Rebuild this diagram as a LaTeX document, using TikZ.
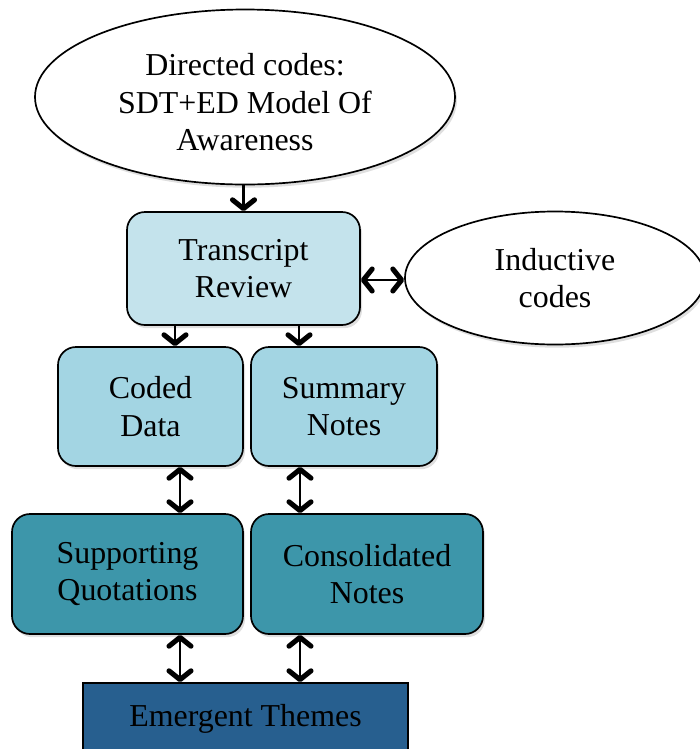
\documentclass[tikz,border=0pt]{standalone}
\usepackage{fontspec}
\setmainfont{Liberation Serif}
\usepackage{tikz}
\definecolor{c00}{rgb}{0.00, 0.00, 0.00}
\definecolor{c01}{HTML}{C4E3EC}
\definecolor{c02}{HTML}{A3D5E3}
\definecolor{c03}{HTML}{3D96AA}
\definecolor{c04}{HTML}{275F8F}
\usetikzlibrary{positioning}
\usetikzlibrary{shapes, arrows.meta, shadows}
\tikzstyle{Link} = [draw, line width=1.5pt, c00,
    -{Straight Barb[length=0.22cm, width=0.55cm, line width=3.6pt, round]}]
\tikzstyle{Both} = [Link,
    {Straight Barb[length=0.22cm, width=0.55cm, line width=3.6pt, round]}-{Straight Barb[length=0.22cm, width=0.55cm, line width=3.6pt, round]}]
\tikzstyle{oval} = [draw, ellipse, fill=white, line width=1.2pt,
    align=center, inner sep=0pt,
    drop shadow={opacity=0.25, shadow xshift=0.05cm, shadow yshift=-0.08cm}]
\tikzstyle{rbox} = [draw, rectangle, rounded corners=0.45cm,
    line width=1.2pt, align=center, inner sep=0pt,
    drop shadow={opacity=0.25, shadow xshift=0.05cm, shadow yshift=-0.08cm}]
\tikzstyle{sbox} = [draw, rectangle, line width=1.2pt, align=center,
    inner sep=0pt]

\begin{document}
\begin{tikzpicture}
     \fontsize{22.7}{26.5}\selectfont
     \useasboundingbox (0,0) rectangle (17.5,-18.725);
     % ><>< =================== ><>< %
     % ><><     Place nodes     ><>< %
     % ><>< =================== ><>< %
     \node [oval, minimum width=10.5cm, minimum height=4.375cm]
        (dircode) at (6.125,-2.425)
        {\raisebox{-0.4cm}[0pt][0pt]{\begin{tabular}{c}Directed codes:\\
         SDT+ED Model Of\\ Awareness\end{tabular}}};
     \node [rbox, fill=c01, minimum width=5.825cm, minimum height=2.825cm]
        (review) at (6.0875,-6.7125) {Transcript\\ Review};
     \node [oval, minimum width=7.5cm, minimum height=3.325cm]
        (induct) at (13.875,-6.95) {Inductive\\ codes};
     \node [rbox, fill=c02, minimum width=4.625cm, minimum height=2.975cm]
        (coded) at (3.7625,-10.1625) {Coded\\ Data};
     \node [rbox, fill=c02, minimum width=4.65cm, minimum height=2.975cm]
        (summary) at (8.6,-10.1625) {Summary\\ Notes};
     \node [rbox, fill=c03, minimum width=5.775cm, minimum height=3cm]
        (quotes) at (3.1875,-14.35) {Supporting\\ Quotations};
     \node [rbox, fill=c03, minimum width=5.8cm, minimum height=3cm]
        (consol) at (9.175,-14.35) {Consolidated\\ Notes};
     \node [sbox, fill=c04, minimum width=8.125cm, minimum height=1.8cm]
        (themes) at (6.1375,-17.975) {Emergent Themes};
     % ><>< =================== ><>< %
     % ><><     Draw lines.     ><>< %
     % ><>< =================== ><>< %
     \path [Link] (dircode.south -| review.north) -- (review.north);
     \path [Both] (review.east |- 0,-7.0) -- (induct.west |- 0,-7.0);
     \path [Link] ([xshift=-1.7125cm]review.south)
        -- ([xshift=-1.7125cm]review.south |- coded.north);
     \path [Link] ([xshift=1.3875cm]review.south)
        -- ([xshift=1.3875cm]review.south |- summary.north);
     \path [Both] ([xshift=0.7375cm]coded.south)
        -- ([xshift=0.7375cm]coded.south |- quotes.north);
     \path [Both] ([xshift=-1.1cm]summary.south)
        -- ([xshift=-1.1cm]summary.south |- consol.north);
     \path [Both] ([xshift=1.3125cm]quotes.south)
        -- ([xshift=1.3125cm]quotes.south |- themes.north);
     \path [Both] ([xshift=-1.675cm]consol.south)
        -- ([xshift=-1.675cm]consol.south |- themes.north);
\end{tikzpicture}
\end{document}
